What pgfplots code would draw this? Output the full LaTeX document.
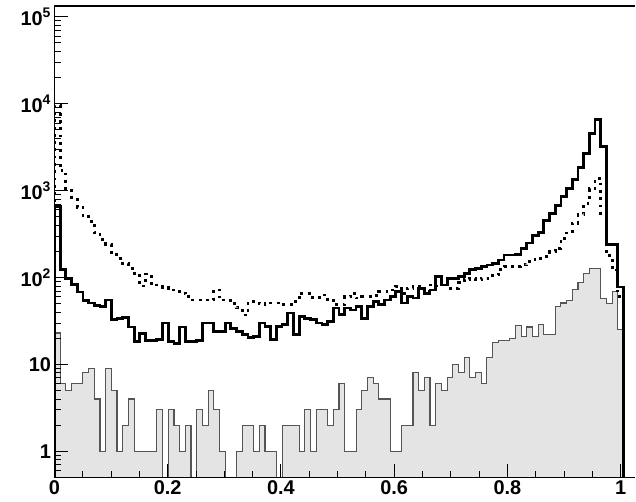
\documentclass[border=0pt]{standalone}
\usepackage{pgfplots}
\pgfplotsset{compat=1.18}
\usepackage{pgfplotstable}
\usepackage{fontspec}
\setmainfont{Liberation Sans}

\definecolor{histfill}{RGB}{228,228,228}
\definecolor{histline}{RGB}{85,85,85}

% bin lower edges; 0.01 stands for an empty bin (below the axis)
\pgfplotstableread{
x       solid  dotted  gray
0.00000 0.01   0.01    0.01
0.00000 650    9500    23
0.01005 124    1700    6
0.02010 98     1000    5
0.03015 83     800     6
0.04020 68     640     6
0.05025 54     500     8
0.06030 51     440     9
0.07035 48     330     4
0.08040 46     275     1
0.09045 55     240     9
0.10050 33     185     5
0.11055 34     167     1
0.12060 35     146     2
0.13065 27     128     4
0.14070 18.5   112     1
0.15075 22.5   80      1
0.16080 19     110     1
0.17085 19     86      1
0.18090 19.5   82      3
0.19095 30     76      0.01
0.20100 18.5   72      3
0.21105 17.5   72      2
0.22110 27     66      1
0.23115 18.5   60      2
0.24120 18.5   55      0.01
0.25125 19     55      3
0.26130 30     55      2
0.27135 30     55      5
0.28140 24     72      3
0.29145 24     55      1
0.30150 30     55      0.01
0.31155 26     50      0.01
0.32160 24     45      1
0.33165 22     37      2
0.34170 20.5   53      2
0.35175 21     51      1
0.36180 30     50      2
0.37185 27.5   49      1
0.38190 19.2   51      1
0.39195 27.5   51      0.01
0.40200 28.6   49      2
0.41205 39     49      2
0.42210 22     53      2
0.43215 35.7   66      1
0.44220 34     66      3
0.45225 32.6   59      1
0.46230 30     59      3
0.47235 28.6   63      3
0.48240 31     55      2
0.49245 44.5   49      3
0.50250 37.5   49      6
0.51255 44.5   60      1
0.52260 42.4   66      1
0.53265 46.5   58      3
0.54270 34     60      5
0.55275 46.5   60      7
0.56280 53     62      6
0.57285 48.5   69      4
0.58290 55     69      4
0.59295 60     72      1
0.60300 69     79      1
0.61305 51     66      2
0.62310 60     75      2
0.63315 58     79      8
0.64320 75     79      5
0.65325 66     70      7
0.66330 72     82      2
0.67335 103    80      6
0.68340 82     87      5
0.69345 98     75      7
0.70350 98     75      10
0.71355 103    87      8
0.72360 112    94      12
0.73365 123    98      7
0.74370 126    94      8
0.75375 134    98      6
0.76380 139    98      12
0.77385 146    107     18
0.78390 159    125     19
0.79395 182    134     19
0.80400 182    134     20
0.81405 185    134     28
0.82410 215    140     21
0.83415 250    153     27
0.84420 305    160     21
0.85425 330    167     29
0.86430 450    174     22
0.87435 540    199     22
0.88440 680    218     46
0.89445 850    284     51
0.90450 1050   338     55
0.91455 1350   422     72
0.92460 1850   526     88
0.93465 2700   716     112
0.94470 4500   1050    128
0.95475 6600   1390    128
0.96480 3200   550     57
0.97485 240    180     50
0.98490 240    122     69
0.99495 78     60      25
1.00500 0.01   0.01    0.01
}\hist

\begin{document}
\begin{tikzpicture}
\begin{axis}[
    scale only axis,
    width=581.5bp, height=472bp,
    xmin=0, xmax=1.026,
    ymode=log, ymin=0.5, ymax=1.33e5,
    axis lines*=left,
    axis line style={-, line width=1.2bp},
    axis on top,
    tick align=inside,
    xtick={0,0.2,0.4,0.6,0.8,1},
    xticklabels={0,0.2,0.4,0.6,0.8,1},
    minor x tick num=3,
    ytick={1,10,100,1000,10000,100000},
    yticklabels={1,10,10\textsuperscript{2},10\textsuperscript{3},10\textsuperscript{4},10\textsuperscript{5}},
    minor ytick={0.6,0.7,0.8,0.9,2,3,4,5,6,7,8,9,20,30,40,50,60,70,80,90,
      200,300,400,500,600,700,800,900,2000,3000,4000,5000,6000,7000,8000,9000,
      20000,30000,40000,50000,60000,70000,80000,90000},
    ticklabel style={font=\fontsize{20}{20}\selectfont\bfseries},
    major tick length=14bp, minor tick length=7bp,
    every tick/.style={black, line width=0.9bp},
    after end axis/.code={
      \draw[line width=1.2bp] (rel axis cs:0,1) -- (rel axis cs:1,1);
    },
  ]
  \addplot[const plot, draw=histline, line width=1.1bp, fill=histfill]
    table[x=x, y=gray] {\hist};
  \addplot[const plot, black, line width=2.8bp, dash pattern=on 2.8bp off 4.5bp]
    table[x=x, y=dotted] {\hist};
  \addplot[const plot, black, line width=2.8bp]
    table[x=x, y=solid] {\hist};
\end{axis}
\path (-54.5bp,-24bp) rectangle (581.5bp,478bp);
\end{tikzpicture}
\end{document}
